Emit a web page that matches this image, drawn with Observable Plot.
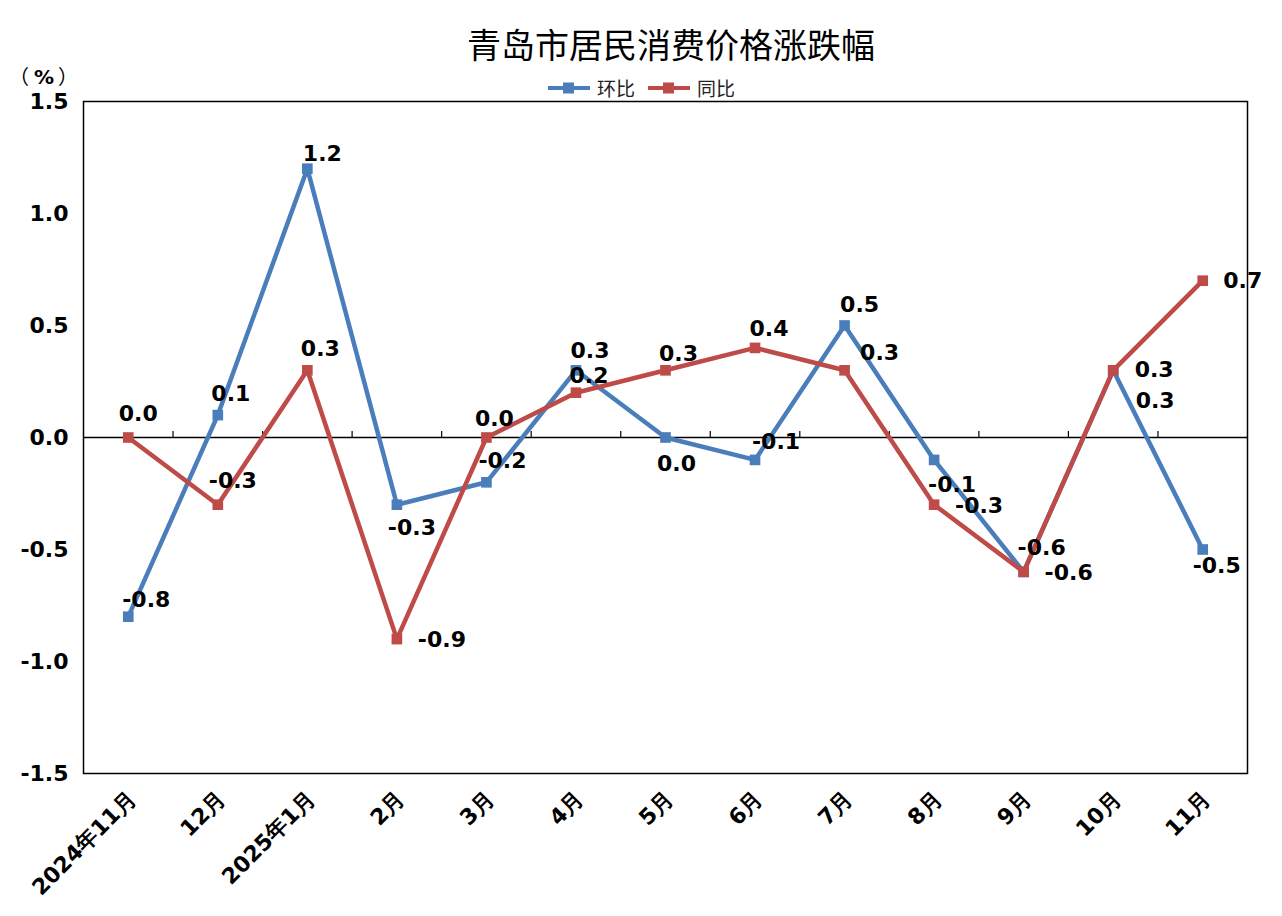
<!DOCTYPE html>
<html><head><meta charset="utf-8">
<script src="https://cdn.jsdelivr.net/npm/d3@7"></script>
<script src="https://cdn.jsdelivr.net/npm/@observablehq/plot@0.6"></script>
<style>
body{margin:0;background:#fff;width:1282px;height:916px;position:relative;overflow:hidden;font-family:"DejaVu Sans",sans-serif}
#title{position:absolute;top:21px;left:0;width:1342px;text-align:center;font:34px/46px "Noto Sans CJK SC",sans-serif;color:#000}
#unit{position:absolute;left:9px;top:62px;font:20px/28px "Noto Sans CJK SC";color:#000;white-space:pre}
#unit b{font-family:"DejaVu Sans";font-weight:bold;margin:0 4px 0 5px}
#legend{position:absolute;top:76px;left:0;width:1282px;display:flex;justify-content:center;align-items:center;font:19px/24px "Noto Sans CJK SC",sans-serif;color:#222}
#legend .item{display:flex;align-items:center;margin:0 6px}
#legend svg{margin-right:6px}
#chart{position:absolute;left:0;top:0}
</style></head><body>
<div id="chart"></div>
<div id="title"></div>
<div id="unit"></div>
<div id="legend"></div>
<script>
const months = ["2024年11月","12月","2025年1月","2月","3月","4月","5月","6月","7月","8月","9月","10月","11月"];
const huanbi = [-0.8, 0.1, 1.2, -0.3, -0.2, 0.3, 0.0, -0.1, 0.5, -0.1, -0.6, 0.3, -0.5];
const tongbi = [0.0, -0.3, 0.3, -0.9, 0.0, 0.2, 0.3, 0.4, 0.3, -0.3, -0.6, 0.3, 0.7];
const yTicks = [-1.5, -1.0, -0.5, 0.0, 0.5, 1.0, 1.5];
const seriesNames = ["环比", "同比"];
const titleText = "青岛市居民消费价格涨跌幅";
const unitParts = ["（", "%", "）"];

// label placement offsets (px) for each point's value label
const huanbiLabelDx = [18, 13, 15, 15, 16, 14, 11, 21, 15, 18, 18, 42, 14];
const huanbiLabelDy = [-17, -21, -15, 23, -21, -19, 26, -18, -21, 25, -24, 31, 16];
const tongbiLabelDx = [10, 15, 13, 45, 8, 13, 13, 14, 35, 45, 45, 41, 40];
const tongbiLabelDy = [-24, -24, -21, 1, -19, -17, -16, -19, -17, 1, 1, 0, 0];

const colors = {"环比": "#4A7EBB", "同比": "#BE4B48"};

const hb = huanbi.map((v, i) => ({i, v}));
const tb = tongbi.map((v, i) => ({i, v}));

function labels(data, dxs, dys) {
  return data.map((d, k) => Plot.text([d], {
    x: "i", y: "v", text: d => d.v.toFixed(1),
    dx: dxs[k], dy: dys[k], fontSize: 22, fontWeight: "bold", fill: "#000",
    fontFamily: "DejaVu Sans"
  }));
}

const chart = Plot.plot({
  width: 1282, height: 916,
  marginLeft: 83, marginRight: 35, marginTop: 101, marginBottom: 143,
  x: {type: "linear", domain: [-0.5, months.length - 0.5]},
  y: {domain: [-1.5, 1.5]},
  style: {fontFamily: "DejaVu Sans", color: "#000", background: "transparent"},
  marks: [
    Plot.axisY(yTicks, {tickSize: 0, tickPadding: 15, tickFormat: d => d.toFixed(1), fontSize: 22, fontWeight: "bold", label: null}),
    Plot.axisX(d3.range(months.length), {tickSize: 0, tickPadding: 22, dx: 4, tickRotate: -45, tickFormat: i => months[i], fontSize: 22, fontWeight: "bold", label: null}),
    Plot.ruleY([0], {stroke: "#000", strokeWidth: 1.5}),
    Plot.ruleX(d3.range(1, months.length).map(i => i - 0.5), {y1: 0, y2: 0, insetBottom: 6, stroke: "#000", strokeWidth: 1.2}),
    Plot.line(hb, {x: "i", y: "v", stroke: colors["环比"], strokeWidth: 4.5}),
    Plot.dot(hb, {x: "i", y: "v", symbol: "square", r: 6, fill: colors["环比"], stroke: null}),
    Plot.line(tb, {x: "i", y: "v", stroke: colors["同比"], strokeWidth: 4.5}),
    Plot.dot(tb, {x: "i", y: "v", symbol: "square", r: 6, fill: colors["同比"], stroke: null}),
    ...labels(hb, huanbiLabelDx, huanbiLabelDy),
    ...labels(tb, tongbiLabelDx, tongbiLabelDy),
    Plot.frame({stroke: "#000", strokeWidth: 1.5})
  ]
});
document.getElementById("chart").appendChild(chart);
document.getElementById("title").textContent = titleText;
document.getElementById("unit").innerHTML = `${unitParts[0]}<b>${unitParts[1]}</b>${unitParts[2]}`;

const legend = document.getElementById("legend");
seriesNames.forEach(name => {
  const item = document.createElement("div");
  item.className = "item";
  const c = colors[name];
  item.innerHTML = `<svg width="44" height="14"><line x1="1" y1="7" x2="43" y2="7" stroke="${c}" stroke-width="4"/><rect x="16" y="1.5" width="11" height="11" fill="${c}"/></svg><span>${name}</span>`;
  legend.appendChild(item);
});
</script>
</body></html>
